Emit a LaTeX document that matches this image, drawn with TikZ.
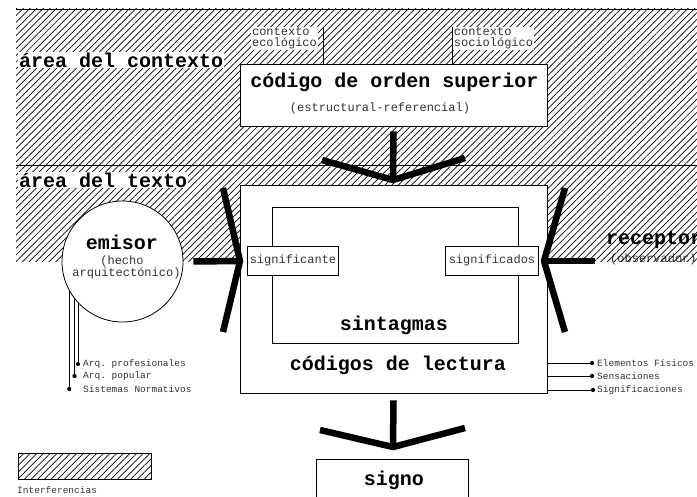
\documentclass[tikz,border=0pt]{standalone}
\usepackage{fontspec}
\setmonofont{Liberation Mono}
\usetikzlibrary{patterns.meta}

\begin{document}
\begin{tikzpicture}[x=1pt, y=-1pt,
  titulo/.style={font=\ttfamily\bfseries\fontsize{20}{24}\selectfont, inner sep=1pt},
  nota/.style={font=\ttfamily\fontsize{12}{11}\selectfont, text=black!80, inner sep=1pt},
  menuda/.style={font=\ttfamily\fontsize{9.5}{11}\selectfont, text=black!80, inner sep=1pt, anchor=west},
  caja/.style={draw, fill=white, line width=0.8pt, inner sep=0pt},
  rayado/.style={pattern={Lines[angle=45, distance=4.7pt, line width=0.7pt]}},
  flecha/.style={line width=6.5pt, line join=miter},
  punto/.style={circle, fill, inner sep=0pt, minimum size=4.2pt}]

  \useasboundingbox (0,0) rectangle (697,497);

  % --- receptor sits under the hatching ---
  \node[titulo, anchor=west] (receptor) at (605,240) {receptor};
  \node[nota, anchor=west] (observ) at (609,259) {(observador)};

  % --- areas: contexto / texto ---
  \fill[rayado] (16,9) rectangle (697,262);
  \draw[line width=0.6pt] (16,9) -- (697,9);
  \draw[line width=0.6pt] (16,165) -- (697,165);
  \node[titulo, anchor=west, fill=white] (acontexto) at (18,60) {área del contexto};
  \node[titulo, anchor=west, fill=white] (atexto) at (18,180) {área del texto};

  % --- codigo de orden superior ---
  \node[caja, minimum width=307, minimum height=62] (orden) at (393.5,95) {};
  \node[titulo] (ordtit) at (394.5,82) {código de orden superior};
  \node[nota] (ordsub) at (380,108) {(estructural-referencial)};

  \node[nota, align=left, fill=white] (ecol) at (284.5,38.5) {contexto\\ecológico};
  \node[nota, align=left, fill=white] (socio) at (493.5,38.5) {contexto\\sociológico};
  \coordinate (cecol) at (323,27);
  \coordinate (csocio) at (452,27);
  \draw[line width=0.6pt] (cecol) -- (cecol |- orden.north);
  \draw[line width=0.6pt] (csocio) -- (csocio |- orden.north);

  % --- codigos de lectura ---
  \node[caja, minimum width=307, minimum height=208] (lectura) at (393.5,289) {};
  \node[caja, minimum width=246, minimum height=136] (sintag) at (395,275) {};
  \node[titulo] (sintit) at (394,325) {sintagmas};
  \node[titulo] (lectit) at (398,365) {códigos de lectura};
  \node[caja, nota, minimum width=91, minimum height=29] (signte) at (293,260.5) {significante};
  \node[caja, nota, minimum width=93, minimum height=29] (signdos) at (492,260.5) {significados};

  % --- emisor ---
  \node[caja, circle, minimum size=121] (emisor) at (122.5,261.5) {};
  \node[titulo] (emitit) at (122,242) {emisor};
  \node[nota] (hecho1) at (122,261) {(hecho};
  \node[nota] (hecho2) at (126.5,273) {arquitectónico)};

  % --- signo ---
  \node[caja, minimum width=152, minimum height=52] (signo) at (392,485) {};
  \node[titulo] (signotit) at (394,480) {signo};

  % --- thick arrows ---
  \coordinate (ap1) at (393,180);
  \draw[flecha] ([yshift=-5pt]orden.south) -- (ap1);
  \draw[flecha] (322,160) -- (ap1) -- (465,158);

  \coordinate (ap2) at (240,261);
  \draw[flecha] ([xshift=10pt]emisor.east) -- (ap2);
  \draw[flecha] (223,188) -- (ap2) -- (223,332);

  \coordinate (ap3) at (544,261);
  \coordinate (cobs) at (595,261);
  \draw[flecha] (cobs) -- (ap3);
  \draw[flecha] (565,188) -- (ap3) -- (565,332);

  \coordinate (ap4) at (393,447);
  \draw[flecha] ([yshift=-7pt]lectura.south) -- (ap4);
  \draw[flecha] (320,430) -- (ap4) -- (465,428);

  % --- emisor: sistemas ---
  \node[menuda] (arqprof) at (82,364) {Arq. profesionales};
  \node[menuda] (arqpop) at (82,376) {Arq. popular};
  \node[menuda] (sisnorm) at (82,389) {Sistemas Normativos};
  \draw[line width=0.6pt] (emisor.223) -- (emisor.223 |- arqprof.west) node[punto] {};
  \draw[line width=0.6pt] (emisor.218) -- (emisor.218 |- arqpop.west) node[punto] {};
  \draw[line width=0.6pt] (emisor.209) -- (emisor.209 |- sisnorm.west) node[punto] {};

  % --- lectura: referentes ---
  \node[menuda] (elem) at (596,363) {Elementos Físicos};
  \node[menuda] (sens) at (596,376) {Sensaciones};
  \node[menuda] (signific) at (596,390) {Significaciones};
  \draw[line width=0.6pt] (lectura.east |- elem.west) -- ([xshift=-4pt]elem.west) node[punto] {};
  \draw[line width=0.6pt] (lectura.east |- sens.west) -- ([xshift=-4pt]sens.west) node[punto] {};
  \draw[line width=0.6pt] (lectura.east |- signific.west) -- ([xshift=-3pt]signific.west) node[punto] {};

  % --- leyenda ---
  \draw[rayado, line width=0.8pt] (18,453) rectangle (151,479);
  \node[menuda] (interf) at (16,490) {Interferencias};

\end{tikzpicture}
\end{document}
